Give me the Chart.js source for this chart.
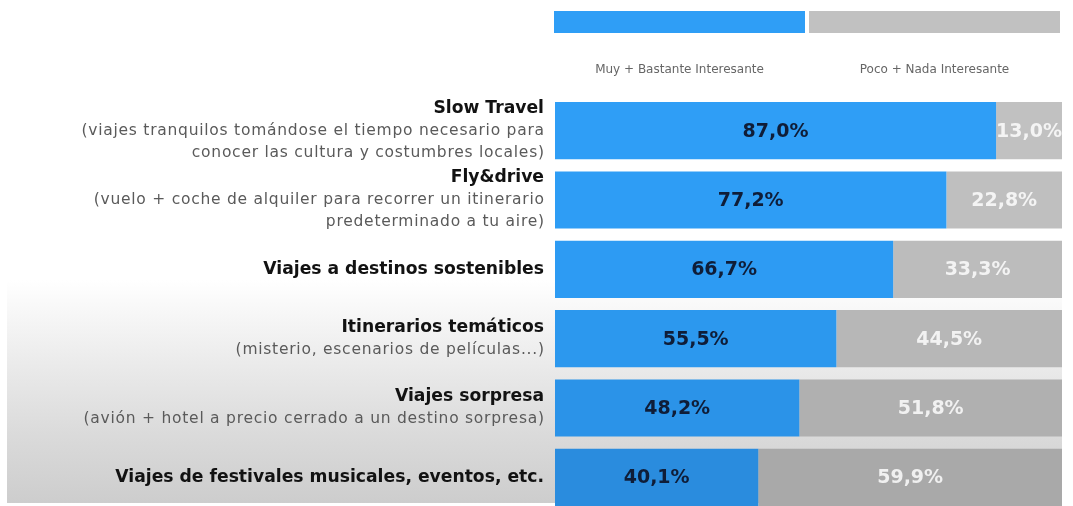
<!DOCTYPE html>
<html>
<head>
<meta charset="utf-8">
<script src="https://cdn.jsdelivr.net/npm/chart.js@4/dist/chart.umd.min.js"></script>
<style>
  html, body { margin: 0; padding: 0; width: 1073px; height: 506px; overflow: hidden; background: #ffffff; }
  #bg { position: absolute; left: 7px; top: 280px; width: 1055px; height: 223px;
        background: linear-gradient(to bottom, rgba(255,255,255,1) 0%, #ececec 35%, #dadada 70%, #cdcdcd 100%); z-index: 0; }
  #wrap { position: absolute; left: 0; top: 0; width: 1073px; height: 520px; z-index: 1; }
</style>
</head>
<body>
<div id="bg"></div>
<div id="wrap"><canvas id="c" width="1073" height="520"></canvas></div>
<script>
// ---- data ----
const categoryTitles = [
  "Slow Travel",
  "Fly&drive",
  "Viajes a destinos sostenibles",
  "Itinerarios temáticos",
  "Viajes sorpresa",
  "Viajes de festivales musicales, eventos, etc."
];
const categoryNotes = [
  ["(viajes tranquilos tomándose el tiempo necesario para", "conocer las cultura y costumbres locales)"],
  ["(vuelo + coche de alquiler para recorrer un itinerario", "predeterminado a tu aire)"],
  [],
  ["(misterio, escenarios de películas...)"],
  ["(avión + hotel a precio cerrado a un destino sorpresa)"],
  []
];
const seriesNames = ["Muy + Bastante Interesante", "Poco + Nada Interesante"];
const interesante = [87.0, 77.2, 66.7, 55.5, 48.2, 40.1];
const noInteresante = [13.0, 22.8, 33.3, 44.5, 51.8, 59.9];

// ---- styles ----
const blueShades = ["#2f9ef6", "#2e9df5", "#2d9bf3", "#2c98ee", "#2b93e8", "#2a8cde"];
const grayShades = ["#c1c1c1", "#bfbfbf", "#bcbcbc", "#b7b7b7", "#b0b0b0", "#a9a9a9"];

const labels = categoryTitles.map((t, i) => [t, ...categoryNotes[i]]);
const fmt = v => v.toFixed(1).replace('.', ',') + '%';

const drawPlugin = {
  id: 'customDraw',
  afterDraw(chart) {
    const ctx = chart.ctx;
    const ys = chart.scales.y;
    const area = chart.chartArea;
    ctx.save();
    // category labels
    chart.data.labels.forEach((lab, i) => {
      const lines = Array.isArray(lab) ? lab : [lab];
      const c = ys.getPixelForValue(i);
      const lh = 22;
      const start = c - (lines.length - 1) * lh / 2;
      lines.forEach((t, k) => {
        if (k === 0) {
          ctx.font = 'bold 17.2px "DejaVu Sans"';
          ctx.fillStyle = '#121212';
          if ('letterSpacing' in ctx) ctx.letterSpacing = '0px';
        } else {
          ctx.font = '15.5px "DejaVu Sans"';
          ctx.fillStyle = '#5a5a5a';
          if ('letterSpacing' in ctx) ctx.letterSpacing = '0.75px';
        }
        ctx.textAlign = 'right';
        ctx.textBaseline = 'middle';
        ctx.fillText(t, area.left - 11 + (k === 0 ? 0 : 0.75), start + k * lh);
      });
    });
    if ('letterSpacing' in ctx) ctx.letterSpacing = '0px';
    // value labels
    chart.data.datasets.forEach((ds, di) => {
      const meta = chart.getDatasetMeta(di);
      meta.data.forEach((bar, i) => {
        const p = bar.getProps(['x', 'y', 'base'], true);
        const cx = (p.x + p.base) / 2;
        ctx.font = 'bold 19px "DejaVu Sans"';
        ctx.fillStyle = di === 0 ? '#0f1d38' : 'rgba(255,255,255,0.82)';
        ctx.textAlign = 'center';
        ctx.textBaseline = 'middle';
        ctx.fillText(fmt(ds.data[i]), cx, p.y + 1);
      });
    });
    // legend bar
    const legL = area.left - 1, legR = area.right - 2, gap = 4;
    const half = (legR - legL - gap) / 2;
    const top = 11, h = 22;
    ctx.fillStyle = blueShades[0];
    ctx.fillRect(legL, top, half, h);
    ctx.fillStyle = grayShades[0];
    ctx.fillRect(legL + half + gap, top, half, h);
    ctx.font = '12px "DejaVu Sans"';
    ctx.fillStyle = '#666666';
    ctx.textAlign = 'center';
    ctx.textBaseline = 'middle';
    ctx.fillText(chart.data.datasets[0].label, legL + half / 2, 70);
    ctx.fillText(chart.data.datasets[1].label, legL + half + gap + half / 2, 70);
    ctx.restore();
  }
};

new Chart(document.getElementById('c'), {
  type: 'bar',
  data: {
    labels: labels,
    datasets: [
      { label: seriesNames[0], data: interesante, backgroundColor: blueShades, borderWidth: 0 },
      { label: seriesNames[1], data: noInteresante, backgroundColor: grayShades, borderWidth: 0 }
    ]
  },
  options: {
    indexAxis: 'y',
    responsive: false,
    animation: false,
    devicePixelRatio: 1,
    layout: { padding: { left: 555, right: 11, top: 96, bottom: 8 } },
    datasets: { bar: { barPercentage: 1, categoryPercentage: 0.824 } },
    scales: {
      x: { stacked: true, min: 0, max: 100, display: false },
      y: { stacked: true, display: false }
    },
    plugins: { legend: { display: false }, tooltip: { enabled: false } }
  },
  plugins: [drawPlugin]
});
</script>
</body>
</html>
